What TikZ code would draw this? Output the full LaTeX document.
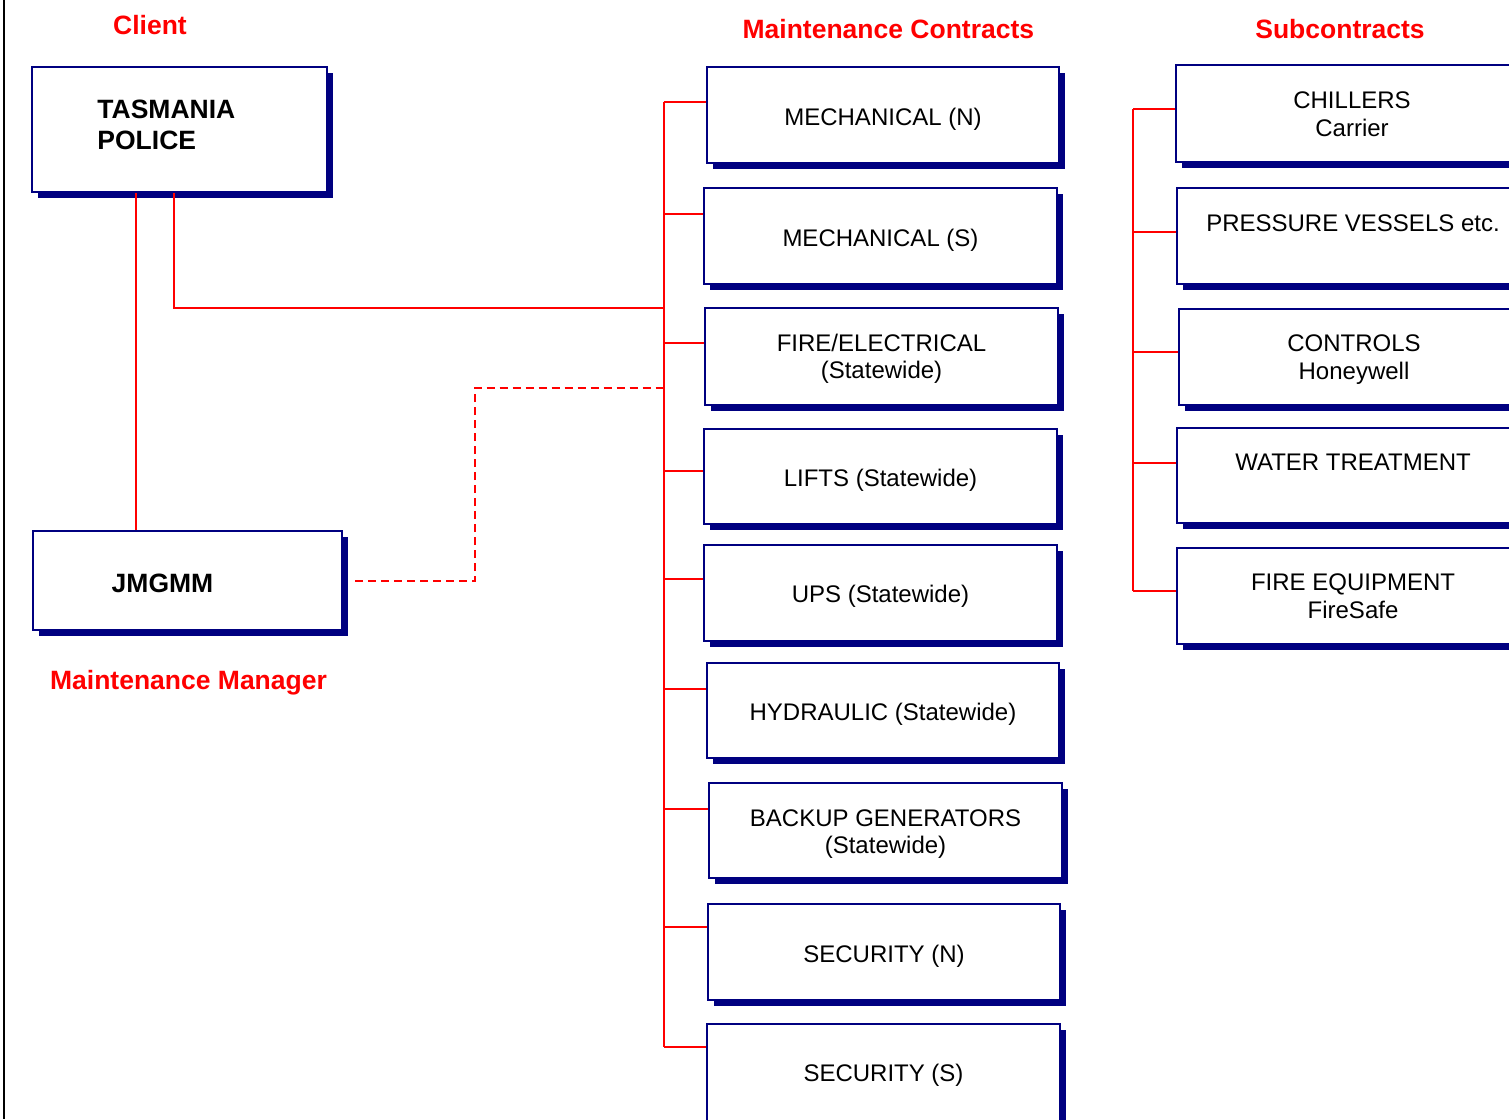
\documentclass[tikz,border=0pt]{standalone}
\usepackage{fontspec}
\setmainfont{Liberation Sans}
\usetikzlibrary{shadows}
\definecolor{navy}{RGB}{0,0,128}
\definecolor{lred}{RGB}{255,0,0}
\newcommand\mybox[5]{\node[cbox, minimum width=(#4-#2)*0.5pt, minimum height=(#5-#3)*0.5pt] (#1) at ({(#2+#4)/2},{(#3+#5)/2}) {};}
\begin{document}
\begin{tikzpicture}[x=0.5pt,y=-0.5pt,
  cbox/.style={draw=navy, line width=1pt, fill=white, rectangle, inner sep=0pt,
    drop shadow={shadow xshift=2.75pt, shadow yshift=-2.75pt, fill=navy, opacity=1}},
  head/.style={text=lred, font=\fontsize{13.25}{15}\selectfont\bfseries, inner sep=0pt, anchor=north},
  btxt/.style={font=\fontsize{12}{13.75}\selectfont, inner sep=0pt, anchor=north, align=center},
  bold/.style={font=\fontsize{13.25}{15.75}\selectfont\bfseries, inner sep=0pt},
  link/.style={draw=lred, line width=1pt},
  dlink/.style={link, dash pattern=on 4pt off 2.5pt}]
\useasboundingbox (0,0) rectangle (1509,1119);
\clip (0,0) rectangle (1509,1119);
\fill[white] (0,0) rectangle (1509,1119);
\draw[line width=1.25pt] (4,0) -- (4,1119);

% headers
\node[head] (hclient) at (150,14.5) {Client};
\node[head] (hmc) at (888.4,18.5) {Maintenance Contracts};
\node[head] (hsub) at (1340,18.5) {Subcontracts};
\node[head] (hmm) at (188.5,669.5) {Maintenance Manager};

% client and manager
\mybox{tp}{32}{67}{327}{192}
\node[bold, anchor=north west, align=left] (tpt) at (97,99.5) {TASMANIA\\POLICE};
\mybox{jm}{33}{531}{342}{630}
\node[bold, anchor=north] (jmt) at (162.5,573.5) {JMGMM};

% maintenance contracts
\mybox{mn}{707}{67}{1059}{163}
\node[btxt] (mnt) at (883,107.9) {MECHANICAL (N)};
\mybox{ms}{704}{188}{1057}{284}
\node[btxt] (mst) at (880.5,229.1) {MECHANICAL (S)};
\mybox{fe}{705}{308}{1058}{405}
\node[btxt] (fet) at (881.5,333.4) {FIRE/ELECTRICAL\\(Statewide)};
\mybox{li}{704}{429}{1057}{524}
\node[btxt] (lit) at (880.5,469.1) {LIFTS (Statewide)};
\mybox{ups}{704}{545}{1057}{641}
\node[btxt] (upst) at (880.5,584.7) {UPS (Statewide)};
\mybox{hy}{707}{663}{1059}{758}
\node[btxt] (hyt) at (883,703.1) {HYDRAULIC (Statewide)};
\mybox{bg}{709}{783}{1062}{878}
\node[btxt] (bgt) at (885.5,809.1) {BACKUP GENERATORS\\(Statewide)};
\mybox{sn}{708}{904}{1060}{1000}
\node[btxt] (snt) at (884,944.7) {SECURITY (N)};
\mybox{ss}{707}{1024}{1060}{1130}
\node[btxt] (sst) at (883.5,1064.1) {SECURITY (S)};

% subcontracts
\mybox{ch}{1176}{65}{1530}{162}
\node[btxt] (cht) at (1352,91.4) {CHILLERS\\Carrier};
\mybox{pv}{1177}{188}{1530}{284}
\node[btxt] (pvt) at (1353,214.1) {PRESSURE VESSELS etc.};
\mybox{co}{1179}{309}{1530}{405}
\node[btxt] (cot) at (1354,334.7) {CONTROLS\\Honeywell};
\mybox{wt}{1177}{428}{1530}{523}
\node[btxt] (wtt) at (1353,453.1) {WATER TREATMENT};
\mybox{fq}{1177}{548}{1530}{644}
\node[btxt] (fqt) at (1353,573.7) {FIRE EQUIPMENT\\FireSafe};

% maintenance bus
\coordinate (j1) at (663.5,101.7);
\coordinate (j2) at (663.5,214);
\coordinate (j3) at (663.5,343.3);
\coordinate (j4) at (663.5,470.7);
\coordinate (j5) at (663.5,578.7);
\coordinate (j6) at (663.5,689);
\coordinate (j7) at (663.5,809);
\coordinate (j8) at (663.5,926.7);
\coordinate (j9) at (663.5,1046.7);
\draw[link] (j1) -- (j9);
\draw[link] (j1) -- (j1 -| mn.west);
\draw[link] (j2) -- (j2 -| ms.west);
\draw[link] (j3) -- (j3 -| fe.west);
\draw[link] (j4) -- (j4 -| li.west);
\draw[link] (j5) -- (j5 -| ups.west);
\draw[link] (j6) -- (j6 -| hy.west);
\draw[link] (j7) -- (j7 -| bg.west);
\draw[link] (j8) -- (j8 -| sn.west);
\draw[link] (j9) -- (j9 -| ss.west);

% subcontract bus
\coordinate (k1) at (1133.3,109);
\coordinate (k2) at (1133.3,231.7);
\coordinate (k3) at (1133.3,351.7);
\coordinate (k4) at (1133.3,463.3);
\coordinate (k5) at (1133.3,591);
\draw[link] (k1) -- (k5);
\draw[link] (k1) -- (k1 -| ch.west);
\draw[link] (k2) -- (k2 -| pv.west);
\draw[link] (k3) -- (k3 -| co.west);
\draw[link] (k4) -- (k4 -| wt.west);
\draw[link] (k5) -- (k5 -| fq.west);

% client links
\coordinate (t1) at (135.5,0);
\draw[link] (t1 |- tp.south) -- (t1 |- jm.north);
\coordinate (t2) at (173.5,308);
\draw[link] (t2 |- tp.south) -- (t2) -- (t2 -| j1);

% manager dashed link
\coordinate (d0) at (355,581);
\coordinate (d1) at (475,387.7);
\draw[dlink] (d0) -| (d1) -- (d1 -| j1);
\end{tikzpicture}
\end{document}
